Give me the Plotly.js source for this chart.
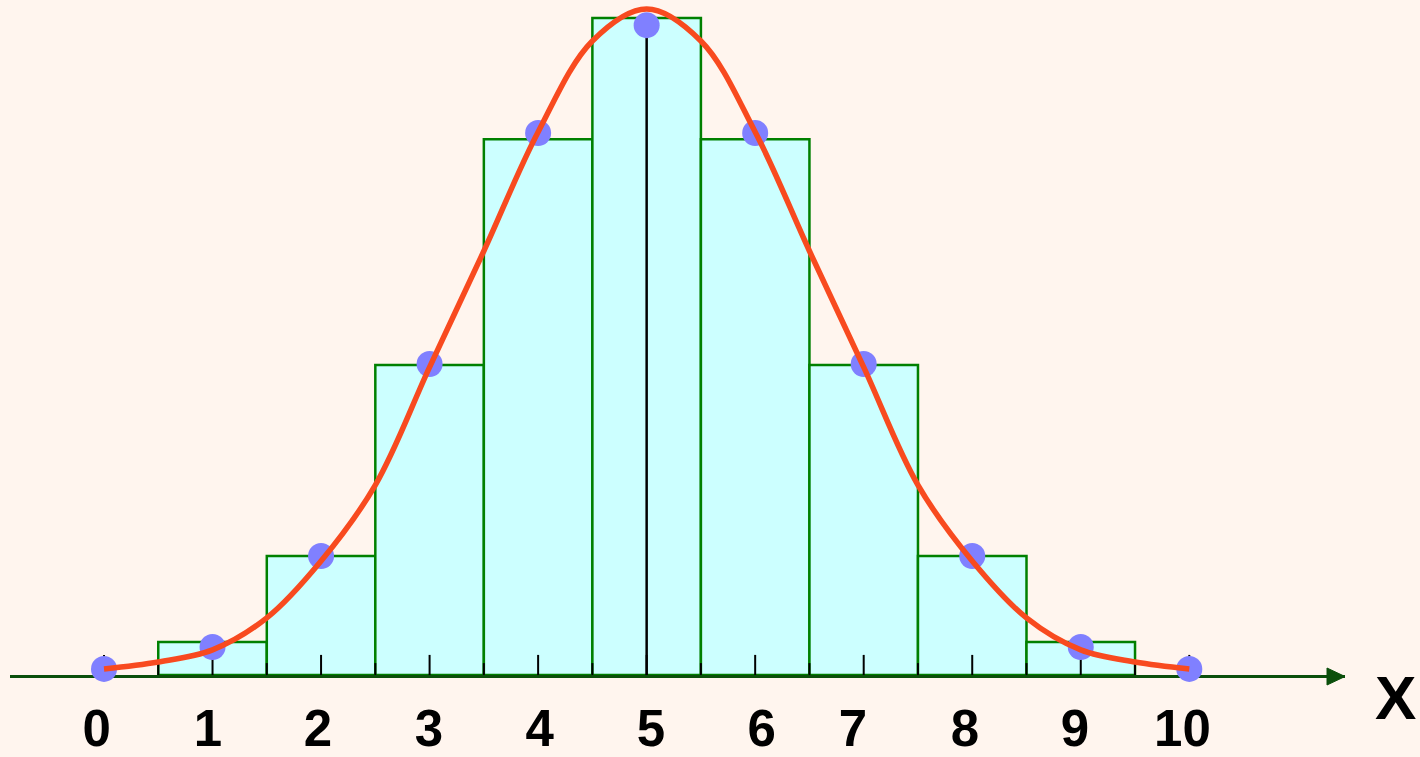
<!DOCTYPE html>
<html>
<head>
<meta charset="utf-8">
<script src="https://cdn.plot.ly/plotly-3.0.1.min.js"></script>
<style>html,body{margin:0;padding:0;background:#fff5ee;}#chart{width:1420px;height:757px;}</style>
</head>
<body>
<div id="chart"></div>
<script>
// Data (probability scale)
const barX = [1, 2, 3, 4, 5, 6, 7, 8, 9];
const barHeights = [0.0125, 0.0450, 0.1172, 0.2026, 0.2484, 0.2026, 0.1172, 0.0450, 0.0125];

const dotX = [0, 1, 2, 3, 4, 5, 6, 7, 8, 9, 10];
const dotY = [0.0023, 0.0106, 0.0450, 0.1176, 0.2049, 0.2457, 0.2049, 0.1176, 0.0450, 0.0106, 0.0023];

const curveX = [0, 0.5, 1, 1.5, 2, 2.5, 3, 3.5, 4, 4.5, 5, 5.5, 6, 6.5, 7, 7.5, 8, 8.5, 9, 9.5, 10];
const curveY = [0.0023, 0.0049, 0.0095, 0.0216, 0.0431, 0.0718, 0.1164, 0.1603, 0.2053, 0.2397, 0.2518,
                0.2397, 0.2053, 0.1603, 0.1164, 0.0718, 0.0431, 0.0216, 0.0095, 0.0049, 0.0023];

// tick marks (integers and halves) and label positions as they sit in the picture
const tickVals = [0, 1, 2, 3, 4, 5, 6, 7, 8, 9, 10];
const minorTickVals = [0.5, 1.5, 2.5, 3.5, 4.5, 5.5, 6.5, 7.5, 8.5, 9.5];
const labelPos = [-0.067, 0.958, 1.972, 2.993, 4.015, 5.040, 6.060, 6.901, 7.933, 8.947, 9.937];
const tickText = ['0', '1', '2', '3', '4', '5', '6', '7', '8', '9', '10'];
const meanX = 5;

// tick segment builder (style lengths in data units)
const majorLen = 0.0076, minorLen = 0.0045;
const tx = [], ty = [];
tickVals.forEach(v => { tx.push(v, v, null); ty.push(0, majorLen, null); });
minorTickVals.forEach(v => { tx.push(v, v, null); ty.push(0, minorLen, null); });

const bars = {
  type: 'bar', x: barX, y: barHeights, width: 1,
  marker: { color: '#ccffff', line: { color: '#008000', width: 2.5 } },
  hoverinfo: 'skip'
};
const ticksTrace = {
  type: 'scatter', mode: 'lines', x: tx, y: ty,
  line: { color: '#000000', width: 2 }, hoverinfo: 'skip', cliponaxis: false
};
const meanLine = {
  type: 'scatter', mode: 'lines', x: [meanX, meanX], y: [-0.0023, barHeights[4]],
  line: { color: '#000000', width: 2.5 }, hoverinfo: 'skip', cliponaxis: false
};
const dots = {
  type: 'scatter', mode: 'markers', x: dotX, y: dotY,
  marker: { color: '#8080ff', size: 26 }, cliponaxis: false
};
const curve = {
  type: 'scatter', mode: 'lines', x: curveX, y: curveY,
  line: { color: '#f84a1f', width: 5.5, shape: 'spline', smoothing: 1 }, cliponaxis: false
};

const layout = {
  width: 1420, height: 757,
  margin: { l: 10, r: 75, t: 0, b: 82 },
  paper_bgcolor: '#fff5ee', plot_bgcolor: '#fff5ee',
  showlegend: false,
  xaxis: {
    range: [-0.8661, 11.4347],
    showgrid: false, zeroline: false,
    showline: true, linecolor: '#0b4f0b', linewidth: 3,
    layer: 'below traces',
    ticks: '', tickvals: labelPos, ticktext: tickText,
    ticklabelstandoff: 7,
    tickfont: { family: 'Liberation Sans, Arial, sans-serif', size: 51, color: '#000000', weight: 'bold' }
  },
  yaxis: {
    range: [0, 0.2552], visible: false, showgrid: false, zeroline: false
  },
  shapes: [{
    type: 'path', xref: 'paper', yref: 'paper',
    xsizemode: 'pixel', ysizemode: 'pixel', xanchor: 1, yanchor: 0,
    path: 'M -18,7 L 0,-1.5 L -18,-10 Z',
    fillcolor: '#0b4f0b', line: { color: '#0b4f0b', width: 1 }
  }],
  annotations: [{
    text: 'X', xref: 'paper', yref: 'paper', x: 1.0375, y: -0.034,
    xanchor: 'center', yanchor: 'middle', showarrow: false,
    font: { family: 'Liberation Sans, Arial, sans-serif', size: 62, color: '#000000', weight: 'bold' }
  }]
};

Plotly.newPlot('chart', [bars, ticksTrace, meanLine, dots, curve], layout, { displayModeBar: false, staticPlot: true });
</script>
</body>
</html>
